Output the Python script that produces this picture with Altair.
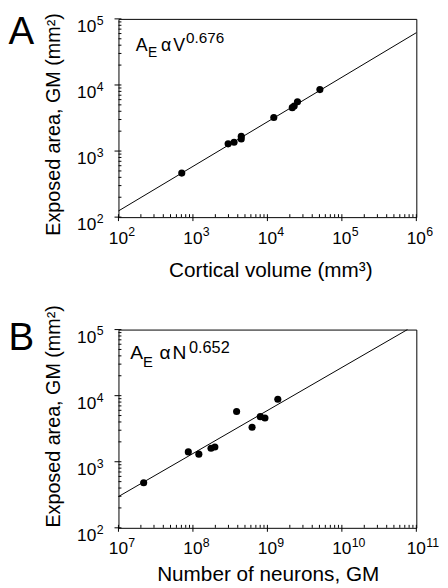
import altair as alt
import pandas as pd

FONT = "Liberation Sans"
W, H = 302, 201

# ---- Panel A: exposed area vs cortical volume ----
vol_A = [708, 2970, 3565, 4456, 4456, 12190, 21570, 22900, 25350, 50700]
area_A = [464, 1285, 1362, 1675, 1527, 3214, 4537, 4810, 5575, 8510]
fit_A_x = [1e2, 1e6]
fit_A_y = [124, 61800]

# ---- Panel B: exposed area vs number of neurons ----
neur_B = [2.18e7, 8.67e7, 1.2e8, 1.75e8, 1.97e8, 3.86e8, 6.23e8, 8.03e8, 9.27e8, 1.38e9]
area_B = [481, 1410, 1303, 1600, 1675, 5770, 3329, 4810, 4585, 8810]
fit_B_x = [1e7, 7.6e10]
fit_B_y = [297, 1e5]

# ---- axes ----
y_ticks = [1e2, 1e3, 1e4, 1e5]
y_exps = ["2", "3", "4", "5"]
x_ticks_A = [1e2, 1e3, 1e4, 1e5, 1e6]
x_exps_A = ["2", "3", "4", "5", "6"]
x_ticks_B = [1e7, 1e8, 1e9, 1e10, 1e11]
x_exps_B = ["7", "8", "9", "10", "11"]

y_title = "Exposed area, GM (mm²)"
x_title_A = "Cortical volume (mm³)"
x_title_B = "Number of neurons, GM"


def minor(decade_starts):
    return [m * d for d in decade_starts for m in range(2, 10)]


def txt(s, x, y, size, align="left", angle=0):
    kw = dict(align=align, baseline="alphabetic", fontSize=size, font=FONT, color="black")
    if angle:
        kw["angle"] = angle
    return alt.Chart(pd.DataFrame({"t": [s]})).mark_text(**kw).encode(
        text="t:N", x=alt.value(x), y=alt.value(y)
    )


def panel(letter, letter_y, xs, ys, fx, fy, xdom, xt, xe, xtitle, xtitle_x, xtitle_y,
          ytitle_y, ann, ann_sizes):
    xs_ = alt.Scale(type="log", domain=xdom, nice=False)
    ys_ = alt.Scale(type="log", domain=[1e2, 1e5], nice=False)
    X = lambda f: alt.X(f, type="quantitative", scale=xs_, axis=None)
    Y = lambda f: alt.Y(f, type="quantitative", scale=ys_, axis=None)

    pts = alt.Chart(pd.DataFrame({"x": xs, "y": ys})).mark_circle(
        size=52, color="black", opacity=1).encode(x=X("x"), y=Y("y"))
    fit = alt.Chart(pd.DataFrame({"x": fx, "y": fy})).mark_line(
        color="black", strokeWidth=1).encode(x=X("x"), y=Y("y"))

    xminor = alt.Chart(pd.DataFrame({"x": minor(xt[:-1])})).mark_rule(
        color="black", strokeWidth=1).encode(x=X("x"), y=alt.value(H - 3), y2=alt.value(H))
    xmajor = alt.Chart(pd.DataFrame({"x": xt})).mark_rule(
        color="black", strokeWidth=1).encode(x=X("x"), y=alt.value(H - 3), y2=alt.value(H + 4))
    yminor = alt.Chart(pd.DataFrame({"y": minor(y_ticks[:-1])})).mark_rule(
        color="black", strokeWidth=1).encode(y=Y("y"), x=alt.value(0), x2=alt.value(3))
    ymajor = alt.Chart(pd.DataFrame({"y": y_ticks})).mark_rule(
        color="black", strokeWidth=1).encode(y=Y("y"), x=alt.value(-4), x2=alt.value(3))

    xl = pd.DataFrame({"x": xt, "e": xe, "b": ["10"] * len(xt)})
    xlab = alt.Chart(xl).mark_text(align="center", baseline="alphabetic", fontSize=17.5,
                                   font=FONT, color="black").encode(
        x=X("x"), y=alt.value(H + 27), text="b:N")
    xexp = alt.Chart(xl).mark_text(align="left", baseline="alphabetic", fontSize=12.5,
                                   font=FONT, color="black", dx=10).encode(
        x=X("x"), y=alt.value(H + 19), text="e:N")
    yl = pd.DataFrame({"y": y_ticks, "e": y_exps, "b": ["10"] * len(y_ticks)})
    ylab = alt.Chart(yl).mark_text(align="right", baseline="alphabetic", fontSize=17.5,
                                   font=FONT, color="black", dy=13.5).encode(
        y=Y("y"), x=alt.value(-22.5), text="b:N")
    yexp = alt.Chart(yl).mark_text(align="left", baseline="alphabetic", fontSize=12.5,
                                   font=FONT, color="black", dy=6).encode(
        y=Y("y"), x=alt.value(-22), text="e:N")

    big, sub, sup = ann_sizes
    (ax, ay), (ex, ey), (alx, aly), (vx, vy), (px, py) = ann["pos"]
    s_A, s_E, s_al, s_V, s_p = ann["text"]
    annot = [
        txt(s_A, ax, ay, big), txt(s_E, ex, ey, sub), txt(s_al, alx, aly, big),
        txt(s_V, vx, vy, big), txt(s_p, px, py, sup),
    ]

    layers = [fit, pts, xminor, xmajor, yminor, ymajor, xlab, xexp, ylab, yexp,
              txt(letter, -111.5, letter_y, 39),
              txt(xtitle, xtitle_x, xtitle_y, 21, align="center"),
              txt(y_title, -59.5, ytitle_y, 20, align="center", angle=270)] + annot
    return alt.layer(*layers).properties(width=W, height=H)


chart_A = panel(
    "A", 25.5, vol_A, area_A, fit_A_x, fit_A_y, [1e2, 1e6], x_ticks_A, x_exps_A,
    x_title_A, 154.5, H + 60.5, 107,
    {"text": ["A", "E", "α", "V", "0.676"],
     "pos": [(17.5, 32.3), (30, 39), (43, 32.3), (55.5, 32.3), (68.5, 24)]},
    (18, 14, 15.5),
)
chart_B = panel(
    "B", 20.5, neur_B, area_B, fit_B_x, fit_B_y, [1e7, 1e11], x_ticks_B, x_exps_B,
    x_title_B, 151.8, H + 54, 88,
    {"text": ["A", "E", "α", "N", "0.652"],
     "pos": [(12, 30), (25, 37.7), (41.5, 30), (54.7, 30), (71.5, 23.3)]},
    (19.5, 15, 16.5),
)

chart = alt.vconcat(chart_A, chart_B, spacing=114, bounds="flush").configure_view(
    stroke="black", strokeWidth=1
).properties(padding={"left": 0, "top": 0, "right": 0, "bottom": 0})

chart.save("out.html", embed_options={"renderer": "svg", "actions": False})
